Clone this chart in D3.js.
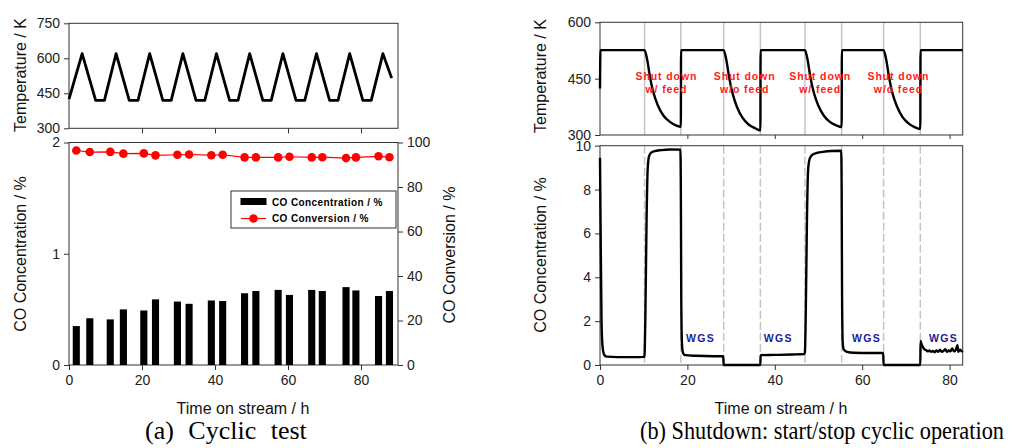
<!doctype html>
<html>
<head>
<meta charset="utf-8">
<title>Cyclic test / shutdown</title>
<script src="https://cdn.jsdelivr.net/npm/d3@7"></script>
<style>
  body { margin: 0; background: #fff; }
  svg { display: block; font-family: "Liberation Sans", Arial, sans-serif; }
  .axis text { font-size: 14px; fill: #222; }
  .axis line, .axis path { stroke: #333; }
  .title { font-size: 16px; fill: #111; }
  .caption { font-family: "Liberation Serif", "Times New Roman", serif; font-size: 26px; fill: #000; }
</style>
</head>
<body>
<svg id="chart" width="1013" height="448"></svg>
<script>
// ---- (a) cyclic test: temperature program vertices
var cycTime = [0, 3.6, 7.3, 9.7, 12.9, 16.5, 18.9, 22.1, 25.7, 28.0, 31.2, 34.8, 37.2, 40.4, 44.0, 46.3,
  49.5, 53.1, 55.4, 58.6, 62.2, 64.6, 67.8, 71.4, 73.7, 76.9, 80.5, 82.8, 86.0, 88.4];
var cycTemp = [425, 620, 420, 420, 620, 420, 420, 620, 420, 420, 620, 420, 420, 620, 420, 420,
  620, 420, 420, 620, 420, 420, 620, 420, 420, 620, 420, 420, 620, 515];

// ---- (a) CO concentration (bars) and conversion (points)
var sampleTime = [2.0, 5.7, 11.3, 14.9, 20.5, 23.7, 29.7, 32.9, 39.0, 42.1,
  48.1, 51.2, 57.3, 60.4, 66.5, 69.4, 75.9, 78.6, 84.8, 87.8];
var coConc = [0.35, 0.42, 0.41, 0.50, 0.49, 0.59, 0.57, 0.55, 0.58, 0.575,
  0.645, 0.665, 0.675, 0.63, 0.675, 0.665, 0.70, 0.67, 0.62, 0.665];
var coConv = [96.4, 95.7, 95.8, 95.0, 95.1, 94.2, 94.5, 94.6, 94.3, 94.5,
  93.3, 93.3, 93.3, 93.6, 93.3, 93.4, 93.0, 93.3, 93.8, 93.4];

// ---- (b) shutdown: temperature trace
var sdTempTime = [0, 0.1, 10.2, 10.8, 11.5, 12.3, 13.2, 14.5, 16, 17.5, 18.5,
  18.55, 28.3, 28.9, 29.6, 30.4, 31.3, 32.6, 34, 35.5, 36.7,
  36.75, 46.9, 47.5, 48.2, 49, 49.9, 51.2, 52.6, 54, 55.3,
  55.35, 64.9, 65.5, 66.2, 67, 67.9, 69.2, 70.6, 72, 73.3,
  73.35, 83];
var sdTemp = [424, 526, 526, 500, 450, 410, 380, 352, 335, 325, 322,
  526, 526, 500, 450, 408, 376, 346, 328, 318, 312,
  526, 526, 500, 450, 410, 380, 352, 335, 326, 321,
  526, 526, 500, 450, 408, 378, 348, 331, 321, 316,
  526, 526];

// ---- (b) shutdown: CO concentration trace
var sdCoTime = [0, 0.15, 0.35, 0.6, 1.0, 1.6, 4, 8, 10.1,
  10.2, 10.4, 10.65, 10.9, 11.2, 11.7, 12.5, 14, 16, 18.4,
  18.5, 18.6, 18.75, 19.0, 19.5, 22, 26, 28.2,
  28.3, 36.7,
  36.75, 40, 44, 46.8,
  46.9, 47.1, 47.35, 47.6, 47.9, 48.4, 49.3, 51, 53, 55.2,
  55.3, 55.4, 55.55, 55.8, 56.5, 58, 62, 64.8,
  64.9, 73.3,
  73.35, 73.5, 73.8, 74.2, 74.6, 75.0, 75.4, 75.8, 76.2, 76.6, 77.0, 77.4, 77.8, 78.2,
  78.6, 79.0, 79.4, 79.8, 80.2, 80.6, 81.0, 81.4, 81.8, 82.0, 82.4, 82.8, 83.0];
var sdCo = [9.45, 6.0, 2.0, 0.8, 0.45, 0.38, 0.36, 0.36, 0.37,
  0.5, 2.5, 6.5, 8.9, 9.5, 9.68, 9.75, 9.8, 9.83, 9.82,
  8.0, 3.0, 1.0, 0.55, 0.45, 0.42, 0.4, 0.4,
  0, 0,
  0.45, 0.46, 0.48, 0.5,
  0.6, 2.5, 6.5, 8.8, 9.35, 9.55, 9.65, 9.72, 9.76, 9.77,
  8.0, 3.0, 1.0, 0.7, 0.6, 0.56, 0.55, 0.55,
  0, 0,
  1.1, 1.0, 0.85, 0.72, 0.68, 0.62, 0.66, 0.6, 0.64, 0.58, 0.66, 0.6, 0.7, 0.6,
  0.64, 0.72, 0.6, 0.66, 0.62, 0.76, 0.62, 0.68, 0.9, 0.6, 0.7, 0.62, 0.65];

// switch points (h) and annotations
var switchTimes = [10.2, 18.5, 28.3, 36.7, 46.9, 55.3, 64.9, 73.3];
var shutLabels = [["Shut down", "w/ feed"], ["Shut down", "w/o feed"], ["Shut down", "w/ feed"], ["Shut down", "w/o feed"]];
var shutTimes = [15.2, 33.1, 50.4, 68.3];
var wgsTimes = [23.0, 40.8, 61.0, 78.6];

var svg = d3.select("#chart");
var fmt = d3.format("d");

function frame(g, x0, y0, x1, y1) {
  g.append("rect").attr("x", x0).attr("y", y0).attr("width", x1 - x0).attr("height", y1 - y0)
    .attr("fill", "none").attr("stroke", "#333").attr("stroke-width", 1);
}
function clean(sel) { sel.select(".domain").remove(); sel.attr("class", "axis"); }

// ================= (a) =================
var xa = d3.scaleLinear().domain([0, 90]).range([69, 397.5]);
var yaT = d3.scaleLinear().domain([300, 750]).range([128.3, 23.3]);
var yaC = d3.scaleLinear().domain([0, 2]).range([365, 142.5]);
var yaV = d3.scaleLinear().domain([0, 100]).range([365, 142.5]);

var ga = svg.append("g");
frame(ga, 69, 23.3, 398, 128.3);
frame(ga, 69, 142.5, 398, 365);

ga.append("g").attr("transform", "translate(69,0)")
  .call(d3.axisLeft(yaT).tickValues([300, 450, 600, 750]).tickSize(5).tickPadding(4).tickFormat(fmt)).call(clean);
ga.append("g").attr("transform", "translate(0,128.3)")
  .call(d3.axisBottom(xa).tickValues([20, 40, 60, 80]).tickSize(5).tickFormat("")).call(clean);

ga.append("path")
  .datum(d3.zip(cycTime, cycTemp))
  .attr("fill", "none").attr("stroke", "#000").attr("stroke-width", 2.8)
  .attr("stroke-linejoin", "round")
  .attr("d", d3.line().x(function(d) { return xa(d[0]); }).y(function(d) { return yaT(d[1]); }));

ga.append("g").attr("transform", "translate(69,0)")
  .call(d3.axisLeft(yaC).tickValues([0, 1, 2]).tickSize(5).tickPadding(4).tickFormat(fmt)).call(clean);
ga.append("g").attr("transform", "translate(398,0)")
  .call(d3.axisRight(yaV).tickValues([0, 20, 40, 60, 80, 100]).tickSize(5).tickPadding(4).tickFormat(fmt)).call(clean);
ga.append("g").attr("transform", "translate(0,365)")
  .call(d3.axisBottom(xa).tickValues([0, 20, 40, 60, 80]).tickSize(5).tickPadding(5).tickFormat(fmt)).call(clean);

var barW = xa(1.95) - xa(0);
ga.append("g").selectAll("rect").data(d3.zip(sampleTime, coConc)).join("rect")
  .attr("x", function(d) { return xa(d[0]) - barW / 2; })
  .attr("y", function(d) { return yaC(d[1]); })
  .attr("width", barW)
  .attr("height", function(d) { return yaC(0) - yaC(d[1]); })
  .attr("fill", "#000");

var conv = d3.zip(sampleTime, coConv);
ga.append("path").datum(conv)
  .attr("fill", "none").attr("stroke", "#ff0000").attr("stroke-width", 1.2)
  .attr("d", d3.line().x(function(d) { return xa(d[0]); }).y(function(d) { return yaV(d[1]); }));
ga.append("g").selectAll("circle").data(conv).join("circle")
  .attr("cx", function(d) { return xa(d[0]); })
  .attr("cy", function(d) { return yaV(d[1]); })
  .attr("r", 4.3).attr("fill", "#ff0000");

// legend
var lg = ga.append("g");
lg.append("rect").attr("x", 231).attr("y", 191).attr("width", 165).attr("height", 37)
  .attr("fill", "#fff").attr("stroke", "#333");
lg.append("rect").attr("x", 240.5).attr("y", 198).attr("width", 26).attr("height", 7).attr("fill", "#000");
lg.append("line").attr("x1", 241).attr("x2", 266).attr("y1", 218.5).attr("y2", 218.5)
  .attr("stroke", "#ff0000").attr("stroke-width", 1.2);
lg.append("circle").attr("cx", 253.5).attr("cy", 218.5).attr("r", 4.3).attr("fill", "#ff0000");
lg.append("text").attr("x", 272).attr("y", 205.5).attr("font-size", 10).attr("font-weight", "bold")
  .attr("letter-spacing", 0.4).text("CO Concentration / %");
lg.append("text").attr("x", 272).attr("y", 222).attr("font-size", 10).attr("font-weight", "bold")
  .attr("letter-spacing", 0.4).text("CO Conversion / %");

ga.append("text").attr("class", "title").attr("text-anchor", "middle")
  .attr("transform", "translate(26,75) rotate(-90)").text("Temperature / K");
ga.append("text").attr("class", "title").attr("text-anchor", "middle")
  .attr("transform", "translate(26,254) rotate(-90)").text("CO Concentration / %");
ga.append("text").attr("class", "title").attr("text-anchor", "middle")
  .attr("transform", "translate(455,255) rotate(-90)").text("CO Conversion / %");
ga.append("text").attr("class", "title").attr("text-anchor", "middle")
  .attr("x", 243).attr("y", 414).text("Time on stream / h");
ga.append("text").attr("class", "caption").attr("x", 145).attr("y", 439)
  .attr("word-spacing", 8).text("(a) Cyclic test");

// ================= (b) =================
var xb = d3.scaleLinear().domain([0, 83]).range([600, 962.7]);
var ybT = d3.scaleLinear().domain([300, 600]).range([135, 22.3]);
var ybC = d3.scaleLinear().domain([0, 10]).range([365, 145.7]);

var gb = svg.append("g");

// switch markers
gb.append("g").selectAll("line").data(switchTimes).join("line")
  .attr("x1", function(d) { return xb(d); }).attr("x2", function(d) { return xb(d); })
  .attr("y1", 22.3).attr("y2", 135)
  .attr("stroke", "#c4c4c4").attr("stroke-width", 1.5);
gb.append("g").selectAll("line").data(switchTimes).join("line")
  .attr("x1", function(d) { return xb(d); }).attr("x2", function(d) { return xb(d); })
  .attr("y1", 145.7).attr("y2", 365)
  .attr("stroke", "#c4c4c4").attr("stroke-width", 1.5).attr("stroke-dasharray", "8,3");

frame(gb, 600, 22.3, 962.7, 135);
frame(gb, 600, 145.7, 962.7, 365);

gb.append("g").attr("transform", "translate(600,0)")
  .call(d3.axisLeft(ybT).tickValues([300, 450, 600]).tickSize(5).tickPadding(4).tickFormat(fmt)).call(clean);
gb.append("g").attr("transform", "translate(0,135)")
  .call(d3.axisBottom(xb).tickValues([20, 40, 60, 80]).tickSize(4).tickFormat("")).call(clean);
gb.append("g").attr("transform", "translate(600,0)")
  .call(d3.axisLeft(ybC).tickValues([0, 2, 4, 6, 8, 10]).tickSize(5).tickPadding(4).tickFormat(fmt)).call(clean);
gb.append("g").attr("transform", "translate(0,365)")
  .call(d3.axisBottom(xb).tickValues([0, 20, 40, 60, 80]).tickSize(5).tickPadding(5).tickFormat(fmt)).call(clean);

gb.append("path").datum(d3.zip(sdTempTime, sdTemp))
  .attr("fill", "none").attr("stroke", "#000").attr("stroke-width", 2.4)
  .attr("d", d3.line().curve(d3.curveMonotoneX)
    .x(function(d) { return xb(d[0]); }).y(function(d) { return ybT(d[1]); }));

gb.append("path").datum(d3.zip(sdCoTime, sdCo))
  .attr("fill", "none").attr("stroke", "#000").attr("stroke-width", 2.4)
  .attr("d", d3.line().curve(d3.curveMonotoneX)
    .x(function(d) { return xb(d[0]); }).y(function(d) { return ybC(d[1]); }));

shutTimes.forEach(function(t, i) {
  var tx = gb.append("text").attr("text-anchor", "middle").attr("font-size", 10.5)
    .attr("font-weight", "bold").attr("letter-spacing", 0.9).attr("fill", "#ff1a1a");
  tx.append("tspan").attr("x", xb(t)).attr("y", 80).text(shutLabels[i][0]);
  tx.append("tspan").attr("x", xb(t)).attr("y", 93).text(shutLabels[i][1]);
});
gb.append("g").selectAll("text").data(wgsTimes).join("text")
  .attr("x", function(d) { return xb(d); }).attr("y", 342)
  .attr("text-anchor", "middle").attr("font-size", 10.5).attr("font-weight", "bold")
  .attr("letter-spacing", 1.3).attr("fill", "#1c1c96").text("WGS");

gb.append("text").attr("class", "title").attr("text-anchor", "middle")
  .attr("transform", "translate(546,76) rotate(-90)").text("Temperature / K");
gb.append("text").attr("class", "title").attr("text-anchor", "middle")
  .attr("transform", "translate(546,255) rotate(-90)").text("CO Concentration / %");
gb.append("text").attr("class", "title").attr("text-anchor", "middle")
  .attr("x", 781).attr("y", 414).text("Time on stream / h");
gb.append("text").attr("class", "caption").style("font-size", "22.3px")
  .attr("transform", "translate(640,439) scale(1,1.15)")
  .text("(b) Shutdown: start/stop cyclic operation");
</script>
</body>
</html>
